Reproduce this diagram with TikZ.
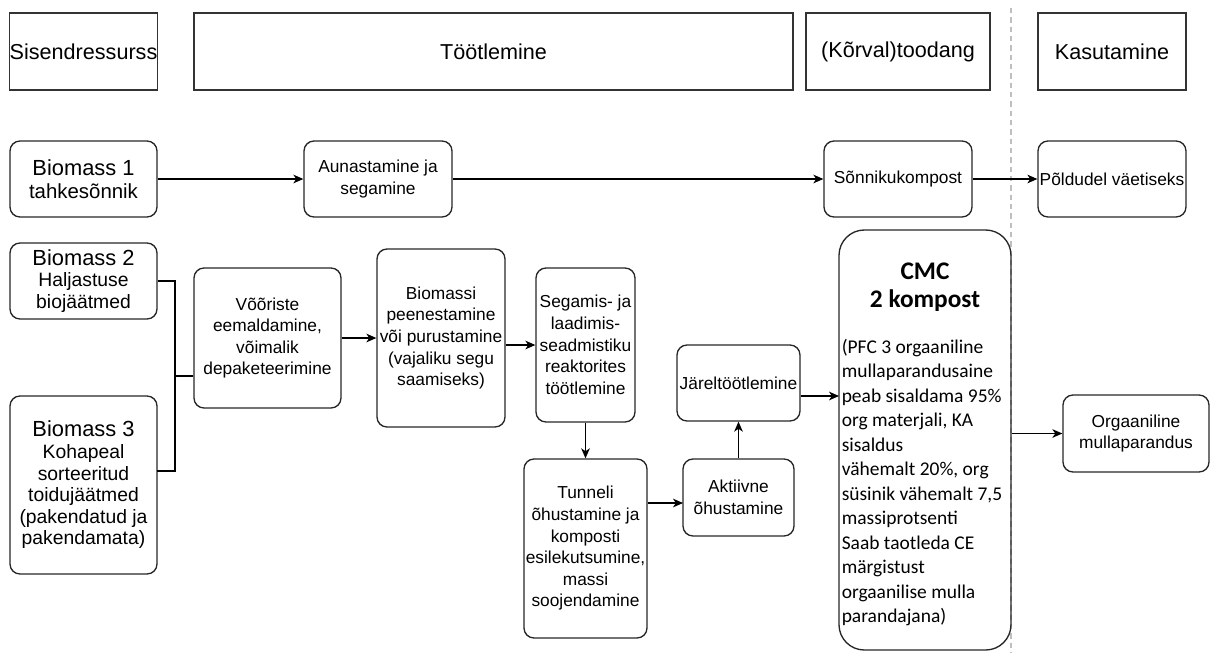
\documentclass[tikz,border=0pt]{standalone}
\usepackage{fontspec}
\setmainfont{Liberation Sans}
\newfontfamily\calibri{Carlito}
\usetikzlibrary{arrows.meta}
\newcommand{\bmtitle}[1]{{\fontsize{16.4}{19.5}\selectfont #1}}
\newcommand{\bmsub}[1]{{\fontsize{14.5}{18.4}\selectfont #1}}
\begin{document}
\begin{tikzpicture}[x=0.75pt,y=-0.75pt,
  wh/.style 2 args={minimum width={#1*0.75pt}, minimum height={#2*0.75pt}},
  hdr/.style={draw=black!80, line width=1pt, inner sep=0pt, font=\fontsize{16.2}{19.5}\selectfont},
  box/.style={draw=black!85, rounded corners=7.5pt, line width=1pt, inner sep=0pt, align=center, font=\fontsize{13}{16.2}\selectfont},
  arr/.style={-{Stealth[length=7.5pt,width=6.5pt,inset=2.2pt]}, line width=0.9pt},
  brk/.style={line width=2pt},
]
\useasboundingbox (0,0) rectangle (1210,653);
% divider
\draw[black!25, line width=0.8pt, dash pattern=on 4pt off 3pt] (1011,8) -- (1011,653);
% headers
\node[hdr, wh={147}{77}] (h1) at (83.5,51.5) {Sisendressurss};
\node[hdr, wh={599}{77}] (h2) at (493.5,51.5) {Töötlemine};
\node[hdr, wh={184}{77}] (h3) at (898,51.5) {(Kõrval)toodang};
\node[hdr, wh={148}{77}] (h4) at (1112,51.5) {Kasutamine};
% row 1
\node[box, wh={147}{76}] (b1) at (83.5,179) {\bmtitle{Biomass 1}\\[1pt]{\fontsize{15.3}{18.4}\selectfont tahkesõnnik}};
\node[box, wh={148}{76}] (aun) at (378,179) {\fontsize{13}{17}\selectfont Aunastamine ja\\segamine};
\node[box, wh={148}{76}] (son) at (898,179) {Sõnnikukompost};
\node[box, wh={148}{76}] (pold) at (1112,179) {Põldudel väetiseks};
% row 2
\node[box, wh={147}{76}] (b2) at (83.5,281) {\bmtitle{Biomass 2}\\\bmsub{Haljastuse}\\\bmsub{biojäätmed}};
\node[box, wh={147}{178}] (b3) at (83.5,485) {\bmtitle{Biomass 3}\\\bmsub{Kohapeal}\\\bmsub{sorteeritud}\\\bmsub{toidujäätmed}\\\bmsub{(pakendatud ja}\\\bmsub{pakendamata)}};
\node[box, wh={147}{140}] (voo) at (267.5,338) {Võõriste\\eemaldamine,\\võimalik\\depaketeerimine};
\node[box, wh={128}{178}] (bio) at (441,338) {Biomassi\\peenestamine\\või purustamine\\(vajaliku segu\\saamiseks)};
\node[box, wh={99}{154}] (seg) at (585.5,345) {Segamis- ja\\laadimis-\\seadmistiku\\reaktorites\\töötlemine};
\node[box, wh={123}{179}] (tun) at (585.5,548.5) {Tunneli\\õhustamine ja\\komposti\\esilekutsumine,\\massi\\soojendamine};
\node[box, wh={111}{77}] (akt) at (738.5,497.5) {Aktiivne\\õhustamine};
\node[box, wh={123}{76}] (jar) at (738.5,383) {Järeltöötlemine};
\node[box, rounded corners=19pt, wh={172}{420}] (cmc) at (925,440) {};
\node[font=\calibri\bfseries\fontsize{19}{21}\selectfont, align=center, inner sep=0pt] (cmct) at (925,287.5) {CMC\\2 kompost};
\node[font=\calibri\fontsize{14.6}{18.4}\selectfont, align=left, inner sep=0pt, anchor=north west] (cmcb) at (841.5,338.5) {(PFC 3 orgaaniline\\mullaparandusaine\\peab sisaldama 95\%\\org materjali, KA\\sisaldus\\vähemalt 20\%, org\\süsinik vähemalt 7,5\\massiprotsenti\\Saab taotleda CE\\märgistust\\orgaanilise mulla\\parandajana)};
\node[box, wh={146}{77}] (org) at (1136,433.5) {Orgaaniline\\mullaparandus};
% connectors row 1
\draw[arr] (b1) -- (aun);
\draw[arr] (aun) -- (son);
\draw[arr] (son) -- (pold);
% bracket
\coordinate (j) at (175,376);
\coordinate (b3e) at (157,471);
\draw[brk] (b2.east) -| (j);
\draw[brk] (b3e) -| (j);
\draw[brk] (j) -- (voo.west |- j);
% flow
\draw[arr] (voo.east) -- (bio.west |- voo.east);
\draw[arr] (bio.east |- seg.west) -- (seg.west);
\draw[arr] (seg.south) -- (tun.north);
\coordinate (ta) at (683,503);
\draw[arr] (tun.east |- ta) -- (ta);
\draw[arr] (akt.north) -- (jar.south);
\coordinate (ca) at (839,396);
\draw[arr] (jar.east |- ca) -- (ca);
\draw[arr] (cmc.east |- org.west) -- (org.west);
\end{tikzpicture}
\end{document}
